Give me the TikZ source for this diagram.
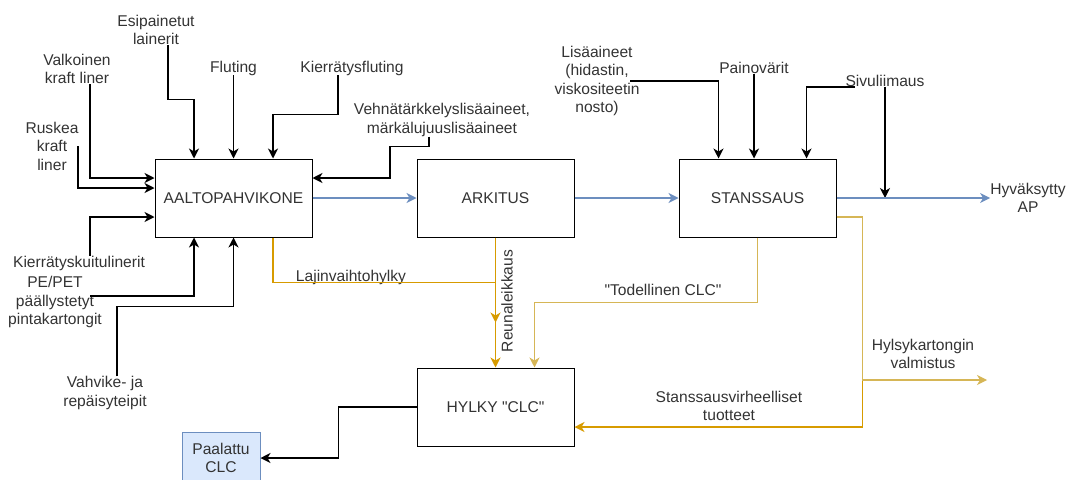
\documentclass[tikz,border=0pt]{standalone}
\usepackage{fontspec}
\setmainfont{Liberation Sans}
\usepackage{tikz}
\usetikzlibrary{arrows.meta, positioning}

\definecolor{txtgray}{HTML}{333333}
\definecolor{flowblue}{HTML}{6C8EBF}
\definecolor{boxblue}{HTML}{DAE8FC}
\definecolor{rejorange}{HTML}{D79B00}
\definecolor{rejyellow}{HTML}{D6B656}
% straight double quote, from a font instance without the TeX mapping
\font\quotefont="Liberation Sans" at 15.6pt
\newcommand{\straightq}{{\quotefont\char34}}

\begin{document}
\begin{tikzpicture}[
    x=1pt, y=-1pt,
    >={Stealth[length=10pt, width=10pt, inset=3pt]},
    procbox/.style={rectangle, draw=black, line width=1pt, minimum width=157pt, minimum height=78pt, font=\fontsize{15.6}{18.5}\selectfont, text=txtgray, align=center},
    paalbox/.style={rectangle, draw=flowblue, fill=boxblue, line width=1pt, minimum width=78pt, minimum height=52pt, font=\fontsize{15.6}{18.5}\selectfont, text=txtgray, align=center},
    lbl/.style={font=\fontsize{15.6}{18.5}\selectfont, text=txtgray, align=center, inner sep=0pt},
    inarr/.style={->, line width=1.3pt, black},
    flowarr/.style={->, line width=1.3pt, flowblue},
    rejline/.style={line width=1.3pt, rejorange},
    rejarr/.style={->, line width=1.3pt, rejorange},
    clcarr/.style={->, line width=1.3pt, rejyellow},
]
\useasboundingbox (0,0) rectangle (1067,479);
\clip (0,0) rectangle (1067,479);

% Process boxes
\node[procbox] (aalto) at (233.5,198) {AALTOPAHVIKONE};
\node[procbox, right=104pt of aalto] (arkitus) {ARKITUS};
\node[procbox, right=104pt of arkitus] (stans) {STANSSAUS};
\node[procbox, below=130pt of arkitus] (hylky) {HYLKY \straightq CLC\straightq};
\node[paalbox] (paal) at (221,458) {Paalattu\\CLC};

% Input labels
\node[lbl] (esip) at (156,30) {Esipainetut\\lainerit};
\node[lbl] (valk) at (77,69) {Valkoinen\\kraft liner};
\node[lbl] (flut) at (233.5,68) {Fluting};
\node[lbl] (kflut) at (352,68) {Kierrätysfluting};
\node[lbl] (rusk) at (52,146) {Ruskea\\kraft\\liner};
\node[lbl] (vehna) at (442,120) {Vehnätärkkelyslisäaineet,\\märkälujuuslisäaineet};
\node[lbl] (kkl) at (79,263) {Kierrätyskuitulinerit};
\node[lbl] (pepet) at (55,302) {PE/PET\\päällystetyt\\pintakartongit};
\node[lbl] (vahv) at (105,393) {Vahvike- ja\\repäisyteipit};
\node[lbl] (lisa) at (597,81) {Lisäaineet\\(hidastin,\\viskositeetin\\nosto)};
\node[lbl] (paino) at (754,68) {Painovärit};
\node[lbl] (sivu) at (885,81) {Sivuliimaus};

% Output labels
\node[lbl] (hyv) at (1028,198) {Hyväksytty\\AP};
\node[lbl] (hylsy) at (923,354) {Hylsykartongin\\valmistus};
\node[lbl] (lajin) at (351,277) {Lajinvaihtohylky};
\node[lbl, rotate=90] (reuna) at (507,301) {Reunaleikkaus};
\node[lbl] (todell) at (663,290) {\straightq Todellinen CLC\straightq};
\node[lbl] (stvir) at (729,406) {Stanssausvirheelliset\\tuotteet};
\coordinate (hylsyend) at (987,380);

% Inputs to AALTOPAHVIKONE
\draw[inarr] ([xshift=13pt]valk.south) |- ([yshift=20pt]aalto.west);
\draw[inarr] ([xshift=26pt]rusk.center) |- ([yshift=10pt]aalto.west);
\draw[inarr] ([xshift=11pt]kkl.north) |- ([yshift=-19pt]aalto.west);
\draw[inarr] ([xshift=12pt]esip.south) -- ++(0,54) -| ([xshift=-39.5pt]aalto.north);
\draw[inarr] (flut.south) -- (flut.south |- aalto.north);
\draw[inarr] ([xshift=-14pt]kflut.south) -- ++(0,39) -| ([xshift=39.5pt]aalto.north);
\draw[inarr] ([xshift=-13pt]vehna.south) |- ++(-39,10) |- ([yshift=20pt]aalto.east);
\draw[inarr] ([xshift=35pt, yshift=6pt]pepet.center) -| ([xshift=-39.5pt]aalto.south);
\draw[inarr] ([xshift=12pt]vahv.north) -- ++(0,-70) -| (aalto.south);

% Inputs to STANSSAUS
\draw[inarr] ([xshift=33pt]lisa.center) -| ([xshift=-39pt]stans.north);
\draw[inarr] (paino.south) -- (paino.south |- stans.north);
\draw[inarr] ([xshift=-30pt, yshift=-6pt]sivu.center) -| ([xshift=49pt]stans.north);
\draw[inarr] (sivu.south) -- (sivu.south |- stans.east);

% Main flow
\draw[flowarr] (aalto.east) -- (arkitus.west);
\draw[flowarr] (arkitus.east) -- (stans.west);
\draw[flowarr] (stans.east) -- (hyv.west);

% Rejects
\draw[rejline] ([xshift=39.5pt]aalto.south) |- ([yshift=-45pt]arkitus.south);
\draw[rejarr] (arkitus.south) -- ([yshift=45pt]hylky.north);
\draw[rejarr] (arkitus.south) -- (hylky.north);
\draw[clcarr] (stans.south) -- ++(0,65) -| ([xshift=39pt]hylky.north);
\draw[rejarr] ([yshift=-19pt]stans.east) -- ++(26,0) |- ([yshift=-20pt]hylky.east);
\draw[clcarr] ([yshift=-19pt]stans.east) -- ++(26,0) |- (hylsyend);

% Baled CLC
\draw[inarr] (hylky.west) -- ++(-78,0) |- (paal.east);

\end{tikzpicture}
\end{document}
